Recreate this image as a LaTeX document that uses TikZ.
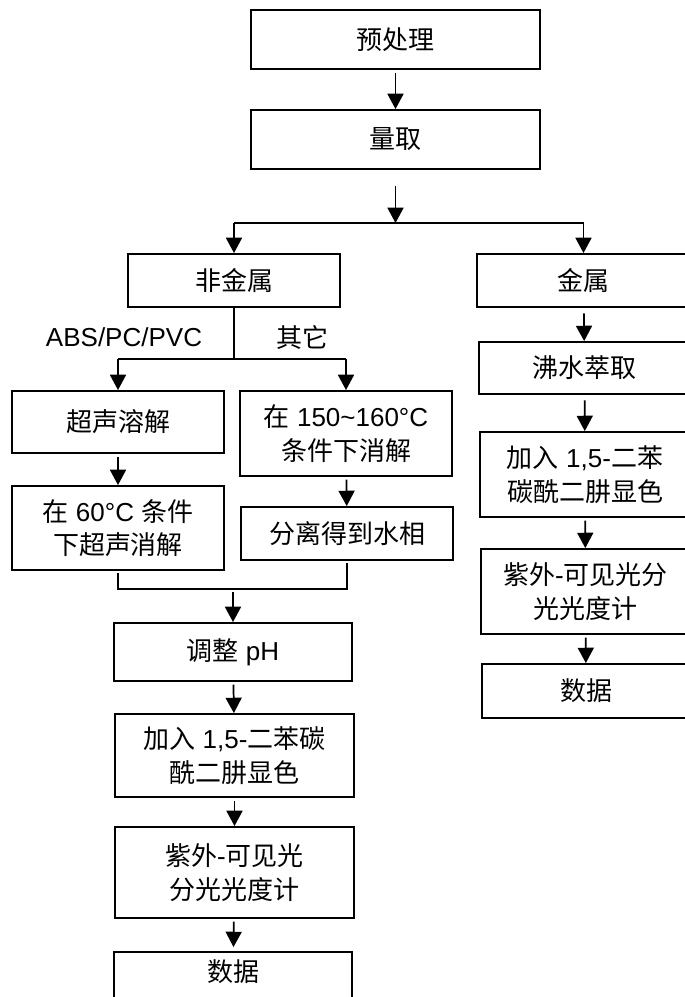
\documentclass[tikz,border=0pt]{standalone}
\usepackage{fontspec}
\setmainfont{Liberation Sans}
\newfontfamily\cjk{Noto Sans CJK SC}
\usetikzlibrary{arrows.meta}
\newcommand\bx[6]{\node[box, minimum width={(#4-#2)*0.75pt}, minimum height={(#5-#3)*0.75pt}] (#1) at ({(#2+#4)/2},{(#3+#5)/2}) {#6};}
\begin{document}
\begin{tikzpicture}[x=0.75pt,y=-0.75pt,
  box/.style={draw, line width=1.4pt, inner sep=0pt, align=center, font=\fontsize{19.5}{25}\selectfont},
  lbl/.style={inner sep=0pt, font=\fontsize{19.5}{25}\selectfont},
  ln/.style={line width=1.3pt},
  arr/.style={line width=1.3pt, shorten <=2pt, -{Triangle[width=12pt,length=11.5pt]}}]
\useasboundingbox (0,0) rectangle (685,997);
\clip (0,0) rectangle (685,997);
% boxes
\bx{pre}{251}{10}{540}{69}{\cjk 预处理}
\bx{liang}{251}{110}{540}{169}{\cjk 量取}
\bx{fjs}{128}{254}{340}{307}{\cjk 非金属}
\bx{js}{477}{254}{690}{307}{\cjk 金属}
\bx{csr}{12}{391}{224}{453}{\cjk 超声溶解}
\bx{gd}{240}{391}{452}{476}{{\cjk 在} 150\textasciitilde160°C\\{\cjk 条件下消解}}
\bx{gl}{12}{486}{224}{570}{{\cjk 在} 60°C {\cjk 条件}\\{\cjk 下超声消解}}
\bx{fl}{241}{507}{453}{560}{\cjk 分离得到水相}
\bx{ph}{114}{623}{352}{681}{{\cjk 调整} pH}
\bx{jr}{115}{714}{354}{797}{{\cjk 加入} 1,5-{\cjk 二苯碳}\\{\cjk 酰二肼显色}}
\bx{zw}{115}{827}{354}{918}{{\cjk 紫外}-{\cjk 可见光}\\{\cjk 分光光度计}}
\bx{sj}{114}{952}{352}{1010}{\raisebox{0pt}[0pt][0pt]{\cjk 数据}}
\bx{fs}{479}{342}{690}{394}{\cjk 沸水萃取}
\bx{jrb}{480}{432}{690}{517}{{\cjk 加入} 1,5-{\cjk 二苯}\\{\cjk 碳酰二肼显色}}
\bx{zwb}{481}{549}{690}{634}{{\cjk 紫外}-{\cjk 可见光分}\\{\cjk 光光度计}}
\bx{sjb}{482}{664}{690}{718}{\cjk 数据}
% labels
\node[lbl] (labs) at (124,337) {ABS/PC/PVC};
\node[lbl] (lqt) at (302,337) {\cjk 其它};
% top connectors
\draw[arr] (pre) -- (liang);
\coordinate (b0) at (395.5,186);
\coordinate (b1) at (395.5,223);
\coordinate (bl) at (234,223);
\coordinate (br) at (583.5,223);
\draw[arr, shorten <=0pt] (b0) -- (b1);
\draw[ln] (bl) -- (br);
\draw[arr, shorten <=0pt] (bl) -- (fjs);
\draw[arr, shorten <=0pt] (br) -- (js);
% non-metal split
\coordinate (s0) at (234,359);
\coordinate (sl) at (118,359);
\coordinate (sr) at (346,359);
\draw[ln] (fjs.south) -- (s0);
\draw[ln] (sl) -- (sr);
\draw[arr, shorten <=0pt] (sl) -- (csr);
\draw[arr, shorten <=0pt] (sr) -- (gd);
\draw[arr] (csr) -- (gl);
\draw[arr] (gd) -- (fl);
% merge
\coordinate (ml0) at (118,573);
\coordinate (ml1) at (118,589);
\coordinate (mr1) at (347,589);
\coordinate (mr0) at (347,563);
\coordinate (m0) at (233,592);
\draw[ln] (ml0) -- (ml1) -- (mr1) -- (mr0);
\draw[arr, shorten <=0pt] (m0) -- (ph);
\draw[arr] (ph) -- (jr);
\draw[arr] (jr) -- (zw);
\draw[arr, shorten >=3pt] (zw) -- (sj);
% metal chain
\draw[arr, shorten <=4pt] (js) -- (fs);
\draw[arr, shorten <=4pt] (fs) -- (jrb);
\draw[arr] (jrb) -- (zwb);
\draw[arr] (zwb) -- (sjb);
\end{tikzpicture}
\end{document}
